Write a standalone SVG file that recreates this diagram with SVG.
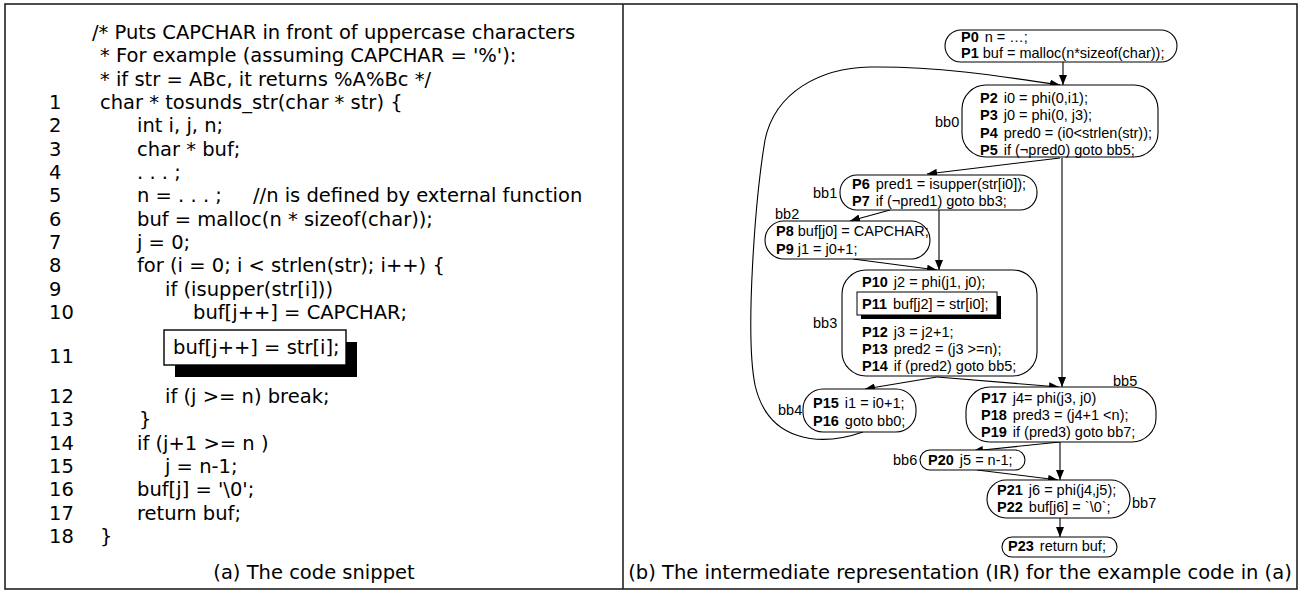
<svg xmlns="http://www.w3.org/2000/svg" width="1302" height="591" viewBox="0 0 1302 591">
<style>
.code{font-family:"DejaVu Sans",sans-serif;font-size:19.5px;fill:#000}
.ir{font-family:"Liberation Sans",Arial,sans-serif;font-size:14.5px;fill:#000}
.b{font-weight:bold}
.lbl{font-family:"Liberation Sans",Arial,sans-serif;font-size:14.5px;fill:#000}
.node{fill:#fff;stroke:#000;stroke-width:1.1}
.edge{fill:none;stroke:#000;stroke-width:1.1}
.frame{fill:none;stroke:#222;stroke-width:1.6}
</style>
<defs>
<marker id="ah" markerWidth="10" markerHeight="8" refX="10" refY="4" orient="auto" markerUnits="userSpaceOnUse"><path d="M0,0 L10,4 L0,8 z" fill="#000"/></marker>
</defs>
<rect width="1302" height="591" fill="#fff"/>
<g id="frame">
<rect class="frame" x="5" y="4" width="1292" height="585"/>
<line class="frame" x1="623" y1="4" x2="623" y2="589"/>
</g>
<g id="code">
<text class="code" x="92" y="39">/* Puts CAPCHAR in front of uppercase characters</text>
<text class="code" x="100" y="62">* For example (assuming CAPCHAR = '%'):</text>
<text class="code" x="100" y="85.5">* if str = ABc, it returns %A%Bc */</text>
<text class="code" x="49" y="109">1</text><text class="code" x="100" y="109">char * tosunds_str(char * str) {</text>
<text class="code" x="49" y="132">2</text><text class="code" x="137" y="132">int i, j, n;</text>
<text class="code" x="49" y="155.5">3</text><text class="code" x="137" y="155.5">char * buf;</text>
<text class="code" x="49" y="179">4</text><text class="code" x="137" y="179">. . . ;</text>
<text class="code" x="49" y="202">5</text><text class="code" x="137" y="202">n = . . . ;</text><text class="code" x="253" y="202">//n is defined by external function</text>
<text class="code" x="49" y="225.5">6</text><text class="code" x="137" y="225.5">buf = malloc(n * sizeof(char));</text>
<text class="code" x="49" y="249">7</text><text class="code" x="137" y="249">j = 0;</text>
<text class="code" x="49" y="272">8</text><text class="code" x="137" y="272">for (i = 0; i &lt; strlen(str); i++) {</text>
<text class="code" x="49" y="295.5">9</text><text class="code" x="165" y="295.5">if (isupper(str[i]))</text>
<text class="code" x="49" y="319">10</text><text class="code" x="193" y="319">buf[j++] = CAPCHAR;</text>
<rect x="175" y="342" width="182" height="35" fill="#000"/>
<rect x="164" y="330" width="182" height="35" fill="#fff" stroke="#000" stroke-width="1.4"/>
<text class="code" x="49" y="363">11</text><text class="code" x="173" y="354">buf[j++] = str[i];</text>
<text class="code" x="49" y="403">12</text><text class="code" x="165" y="403">if (j &gt;= n) break;</text>
<text class="code" x="49" y="426">13</text><text class="code" x="139" y="426">}</text>
<text class="code" x="49" y="449.5">14</text><text class="code" x="137" y="449.5">if (j+1 &gt;= n )</text>
<text class="code" x="49" y="473">15</text><text class="code" x="165" y="473">j = n-1;</text>
<text class="code" x="49" y="496">16</text><text class="code" x="137" y="496">buf[j] = '\0';</text>
<text class="code" x="49" y="519.5">17</text><text class="code" x="137" y="519.5">return buf;</text>
<text class="code" x="49" y="543">18</text><text class="code" x="100" y="543">}</text>
<text class="code" x="314" y="579" text-anchor="middle">(a) The code snippet</text>
</g>
<g id="connectors">
<path class="edge" marker-end="url(#ah)" d="M1063,62 L1063,85"/>
<path class="edge" marker-end="url(#ah)" d="M863,432 C820,447 768,442 755,385 C745,335 755,200 765,140 C775,92 820,68 870,67 C935,66 1000,76 1060,85"/>
<path class="edge" marker-end="url(#ah)" d="M1060,158 L927,174"/>
<path class="edge" marker-end="url(#ah)" d="M1062,158 L1062,387"/>
<path class="edge" marker-end="url(#ah)" d="M890,210 L850,221"/>
<path class="edge" marker-end="url(#ah)" d="M939,210 L939,270"/>
<path class="edge" marker-end="url(#ah)" d="M853,259 L937,270"/>
<path class="edge" marker-end="url(#ah)" d="M937,377 L865,389"/>
<path class="edge" marker-end="url(#ah)" d="M937,377 L1059,387"/>
<path class="edge" marker-end="url(#ah)" d="M1060,442 L973,451"/>
<path class="edge" marker-end="url(#ah)" d="M1060,442 L1060,480"/>
<path class="edge" marker-end="url(#ah)" d="M977,470 L1058,480"/>
<path class="edge" marker-end="url(#ah)" d="M1060,518 L1060,537"/>
</g>
<g id="entry">
<rect class="node" x="945" y="30" width="232" height="32" rx="16"/>
<text class="ir" x="961" y="42"><tspan class="b">P0</tspan><tspan dx="6">n = …;</tspan></text>
<text class="ir" x="961" y="58"><tspan class="b">P1</tspan><tspan dx="4">buf = malloc(n*sizeof(char));</tspan></text>
</g>
<g id="bb0">
<rect class="node" x="962" y="85" width="196" height="72" rx="24"/>
<text class="lbl" x="935" y="127">bb0</text>
<text class="ir" x="980" y="103"><tspan class="b">P2</tspan><tspan dx="6">i0 = phi(0,i1);</tspan></text>
<text class="ir" x="980" y="120"><tspan class="b">P3</tspan><tspan dx="6">j0 = phi(0, j3);</tspan></text>
<text class="ir" x="980" y="138"><tspan class="b">P4</tspan><tspan dx="6">pred0 = (i0&lt;strlen(str));</tspan></text>
<text class="ir" x="980" y="155"><tspan class="b">P5</tspan><tspan dx="6">if (¬pred0) goto bb5;</tspan></text>
</g>
<g id="bb1">
<rect class="node" x="840" y="175" width="197" height="35" rx="17"/>
<text class="lbl" x="813" y="198">bb1</text>
<text class="ir" x="852" y="189"><tspan class="b">P6</tspan><tspan dx="6">pred1 = isupper(str[i0]);</tspan></text>
<text class="ir" x="852" y="206"><tspan class="b">P7</tspan><tspan dx="6">if (¬pred1) goto bb3;</tspan></text>
</g>
<g id="bb2">
<rect class="node" x="765" y="221" width="165" height="38" rx="19"/>
<text class="lbl" x="775" y="219">bb2</text>
<text class="ir" x="776" y="236"><tspan class="b">P8</tspan><tspan dx="4">buf[j0] = CAPCHAR;</tspan></text>
<text class="ir" x="776" y="254"><tspan class="b">P9</tspan><tspan dx="4">j1 = j0+1;</tspan></text>
</g>
<g id="bb3">
<rect class="node" x="842" y="270" width="195" height="106" rx="24"/>
<text class="lbl" x="813" y="328">bb3</text>
<text class="ir" x="862" y="287"><tspan class="b">P10</tspan><tspan dx="6">j2 = phi(j1, j0);</tspan></text>
<rect x="861" y="296" width="140" height="23" fill="#000"/>
<rect x="857" y="292" width="140" height="23" fill="#fff" stroke="#000" stroke-width="1"/>
<text class="ir" x="862" y="309"><tspan class="b">P11</tspan><tspan dx="6">buf[j2] = str[i0];</tspan></text>
<text class="ir" x="862" y="337"><tspan class="b">P12</tspan><tspan dx="6">j3 = j2+1;</tspan></text>
<text class="ir" x="862" y="354"><tspan class="b">P13</tspan><tspan dx="6">pred2 = (j3 &gt;=n);</tspan></text>
<text class="ir" x="862" y="371"><tspan class="b">P14</tspan><tspan dx="6">if (pred2) goto bb5;</tspan></text>
</g>
<g id="bb4">
<rect class="node" x="803" y="389" width="113" height="43" rx="20"/>
<text class="lbl" x="778" y="415">bb4</text>
<text class="ir" x="813" y="408"><tspan class="b">P15</tspan><tspan dx="6">i1 = i0+1;</tspan></text>
<text class="ir" x="813" y="426"><tspan class="b">P16</tspan><tspan dx="6">goto bb0;</tspan></text>
</g>
<g id="bb5">
<rect class="node" x="966" y="387" width="190" height="55" rx="24"/>
<text class="lbl" x="1113" y="386">bb5</text>
<text class="ir" x="981" y="403"><tspan class="b">P17</tspan><tspan dx="6">j4= phi(j3, j0)</tspan></text>
<text class="ir" x="981" y="420"><tspan class="b">P18</tspan><tspan dx="6">pred3 = (j4+1 &lt;n);</tspan></text>
<text class="ir" x="981" y="437"><tspan class="b">P19</tspan><tspan dx="6">if (pred3) goto bb7;</tspan></text>
</g>
<g id="bb6">
<rect class="node" x="920" y="450" width="105" height="20" rx="10"/>
<text class="lbl" x="893" y="465">bb6</text>
<text class="ir" x="928" y="465"><tspan class="b">P20</tspan><tspan dx="6">j5 = n-1;</tspan></text>
</g>
<g id="bb7">
<rect class="node" x="987" y="480" width="143" height="38" rx="19"/>
<text class="lbl" x="1132" y="508">bb7</text>
<text class="ir" x="997" y="495"><tspan class="b">P21</tspan><tspan dx="6">j6 = phi(j4,j5);</tspan></text>
<text class="ir" x="997" y="512"><tspan class="b">P22</tspan><tspan dx="6">buf[j6] = `\0`;</tspan></text>
</g>
<g id="exit">
<rect class="node" x="1002" y="537" width="115" height="20" rx="10"/>
<text class="ir" x="1008" y="551"><tspan class="b">P23</tspan><tspan dx="6">return buf;</tspan></text>
</g>
<text class="code" x="960" y="579" text-anchor="middle">(b) The intermediate representation (IR) for the example code in (a)</text>
</svg>
